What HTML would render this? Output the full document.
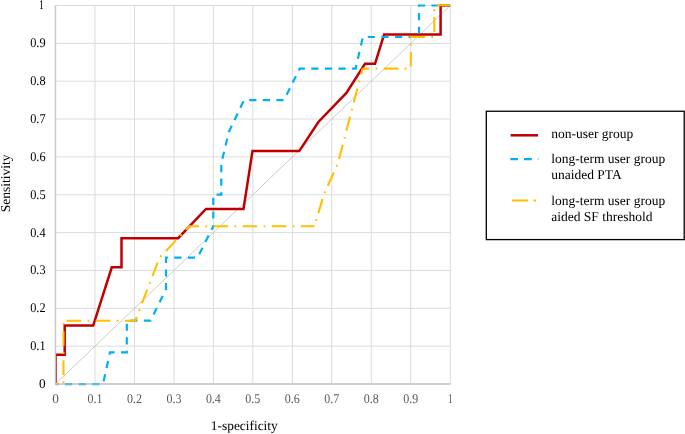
<!DOCTYPE html>
<html>
<head>
<meta charset="utf-8">
<style>
html,body{margin:0;padding:0;background:#fff;}
body{width:685px;height:434px;overflow:hidden;}
svg{display:block;}
text{font-family:"Liberation Serif", serif;text-rendering:geometricPrecision;}
svg{will-change:transform;}
</style>
</head>
<body>
<svg width="685" height="434" viewBox="0 0 685 434">
<rect x="0" y="0" width="685" height="434" fill="#fff"/>
<defs><clipPath id="pc"><rect x="55.5" y="0" width="400" height="434"/></clipPath></defs>
<g stroke="#dcdcdc" stroke-width="1" fill="none">
<path d="M94.97 5.5V384.0M134.44 5.5V384.0M173.91 5.5V384.0M213.38 5.5V384.0M252.85 5.5V384.0M292.32 5.5V384.0M331.79 5.5V384.0M371.26 5.5V384.0M410.73 5.5V384.0M450.20 5.5V384.0"/>
<path d="M55.5 346.15H450.2M55.5 308.30H450.2M55.5 270.45H450.2M55.5 232.60H450.2M55.5 194.75H450.2M55.5 156.90H450.2M55.5 119.05H450.2M55.5 81.20H450.2M55.5 43.35H450.2M55.5 5.50H450.2"/>
</g>
<path d="M55.5 5.5V384.0" stroke="#c6c6c6" stroke-width="1.2" fill="none"/>
<path d="M55.5 384.0H450.2" stroke="#cfcfcf" stroke-width="1.8" fill="none"/>
<path d="M55.5 384.0L450.2 5.5" stroke="#bfbfbf" stroke-width="0.8" fill="none"/>
<g clip-path="url(#pc)">
<polyline fill="none" stroke="#c00000" stroke-width="2.5" points="55.5,384 55.5,354.7 64.7,354.7 64.7,325.6 93.2,325.6 111.8,267.3 121.5,267.3 121.5,238.2 178.2,238.2 206,209 243.5,209 252.5,151.1 299.2,151.1 318.4,122 346.4,92.9 365,63.8 375,63.8 384.1,34.6 440.6,34.6 440.6,5.5 450.2,5.5"/>
<polyline fill="none" stroke="#00b0f0" stroke-width="2.2" stroke-dasharray="7.2 6.4" stroke-dashoffset="4.10" points="55.5,384.1 103.0,384.1 110.0,352.3 126.8,352.3 126.8,320.7 150.6,320.7 166.0,289.2 166.0,257.7 197.5,257.7 213.3,226.2"/>
<polyline fill="none" stroke="#00b0f0" stroke-width="2.2" stroke-dasharray="7.2 6.4" stroke-dashoffset="6.00" points="213.3,226.2 213.3,194.65 221.3,194.65 221.3,163.1 229.0,131.6 244.0,100.1 284.0,100.1 299.7,68.6 355.6,68.6 362.9,37.0 419.0,37.0 419.0,5.5 450.2,5.5"/>

<polyline fill="none" stroke="#ffc000" stroke-width="2.1" stroke-dasharray="14.6 6.4 1.7 6.4" stroke-dashoffset="12.20" points="55.5,383.8 63.5,383.8 63.5,320.7"/>
<polyline fill="none" stroke="#ffc000" stroke-width="2.1" stroke-dasharray="14.6 6.4 1.7 6.4" stroke-dashoffset="26.00" points="63.5,320.7 135.3,320.7 159.5,257.7 189.5,226.2 314.5,226.2"/>
<polyline fill="none" stroke="#ffc000" stroke-width="2.1" stroke-dasharray="14.6 6.4 1.7 6.4" stroke-dashoffset="15.50" points="314.5,226.2 323.8,194.65 338.0,163.1 362.6,68.6"/>
<polyline fill="none" stroke="#ffc000" stroke-width="2.1" stroke-dasharray="14.6 6.4 1.7 6.4" stroke-dashoffset="8.00" points="362.6,68.6 410.8,68.6 410.8,37.0 434.3,37.0 434.3,5.2 450.2,5.2"/>

</g>
<path d="M55.5 384.0H450.2" stroke="#cfcfcf" stroke-width="1.4" stroke-opacity="0.55" fill="none"/>
<path d="M55.5 5.5V384.0" stroke="#c6c6c6" stroke-width="1.2" stroke-opacity="0.9" fill="none"/>
<g font-size="13.3" fill="#000" text-anchor="end">
<text x="45.6" y="387.90">0</text>
<text x="45.6" y="350.05" textLength="15.4" lengthAdjust="spacingAndGlyphs">0.1</text>
<text x="45.6" y="312.20" textLength="15.4" lengthAdjust="spacingAndGlyphs">0.2</text>
<text x="45.6" y="274.35" textLength="15.4" lengthAdjust="spacingAndGlyphs">0.3</text>
<text x="45.6" y="236.50" textLength="15.4" lengthAdjust="spacingAndGlyphs">0.4</text>
<text x="45.6" y="198.65" textLength="15.4" lengthAdjust="spacingAndGlyphs">0.5</text>
<text x="45.6" y="160.80" textLength="15.4" lengthAdjust="spacingAndGlyphs">0.6</text>
<text x="45.6" y="122.95" textLength="15.4" lengthAdjust="spacingAndGlyphs">0.7</text>
<text x="45.6" y="85.10" textLength="15.4" lengthAdjust="spacingAndGlyphs">0.8</text>
<text x="45.6" y="47.25" textLength="15.4" lengthAdjust="spacingAndGlyphs">0.9</text>
<text x="43.9" y="9.40" textLength="4.8" lengthAdjust="spacingAndGlyphs">1</text>
</g>
<g font-size="13.3" fill="#595959" text-anchor="middle">
<text x="55.50" y="402.8">0</text>
<text x="94.97" y="402.8" textLength="15" lengthAdjust="spacingAndGlyphs">0.1</text>
<text x="134.44" y="402.8" textLength="15" lengthAdjust="spacingAndGlyphs">0.2</text>
<text x="173.91" y="402.8" textLength="15" lengthAdjust="spacingAndGlyphs">0.3</text>
<text x="213.38" y="402.8" textLength="15" lengthAdjust="spacingAndGlyphs">0.4</text>
<text x="252.85" y="402.8" textLength="15" lengthAdjust="spacingAndGlyphs">0.5</text>
<text x="292.32" y="402.8" textLength="15" lengthAdjust="spacingAndGlyphs">0.6</text>
<text x="331.79" y="402.8" textLength="15" lengthAdjust="spacingAndGlyphs">0.7</text>
<text x="371.26" y="402.8" textLength="15" lengthAdjust="spacingAndGlyphs">0.8</text>
<text x="410.73" y="402.8" textLength="15" lengthAdjust="spacingAndGlyphs">0.9</text>
<text x="450.40" y="402.8" textLength="4.8" lengthAdjust="spacingAndGlyphs">1</text>
</g>
<text x="244.3" y="430.2" font-size="13.4" fill="#000" text-anchor="middle">1-specificity</text>
<text transform="translate(10.3,183.4) rotate(-90)" font-size="13.5" fill="#000" text-anchor="middle">Sensitivity</text>
<rect x="486.3" y="111.25" width="197.9" height="128.35" fill="none" stroke="#000" stroke-width="1.3"/>
<line x1="510.6" y1="135.3" x2="538" y2="135.3" stroke="#c00000" stroke-width="2.5"/>
<line x1="510.3" y1="159.2" x2="538.3" y2="159.2" stroke="#00b0f0" stroke-width="2.2" stroke-dasharray="7.8 5.9"/>
<line x1="512" y1="200.5" x2="536" y2="200.5" stroke="#ffc000" stroke-width="2.1" stroke-dasharray="16.1 5.5 2.4 5.5"/>
<g font-size="13.5" fill="#000">
<text x="551.2" y="137.5">non-user group</text>
<text x="551.2" y="163.3">long-term user group</text>
<text x="551.2" y="179.1">unaided PTA</text>
<text x="551.2" y="205.2">long-term user group</text>
<text x="551.2" y="220.9">aided SF threshold</text>
</g>
</svg>
</body>
</html>
